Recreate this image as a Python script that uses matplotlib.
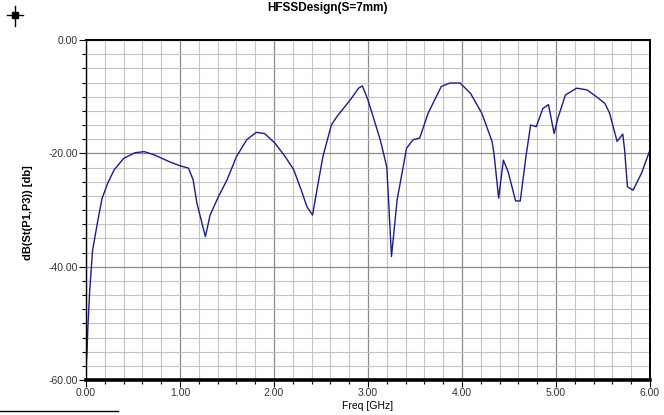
import matplotlib

matplotlib.use("Agg")
import matplotlib.pyplot as plt
from matplotlib.lines import Line2D
from matplotlib.ticker import MultipleLocator, FormatStrFormatter

# S-parameter curve
freq_ghz = [
    0.00, 0.01, 0.02, 0.04, 0.07, 0.12, 0.17, 0.23, 0.30, 0.40,
    0.52, 0.62, 0.73, 0.89, 1.00, 1.09, 1.14, 1.18, 1.27, 1.32,
    1.41, 1.50, 1.60, 1.71, 1.81, 1.90, 2.01, 2.12, 2.21, 2.29,
    2.35, 2.41, 2.45, 2.52, 2.61, 2.67, 2.81, 2.90, 2.94, 3.00,
    3.13, 3.20, 3.25, 3.31, 3.41, 3.48, 3.55, 3.64, 3.78, 3.87,
    3.98, 4.09, 4.21, 4.32, 4.34, 4.39, 4.44, 4.49, 4.57, 4.62,
    4.68, 4.73, 4.79, 4.86, 4.92, 4.98, 5.02, 5.10, 5.22, 5.33,
    5.43, 5.52, 5.57, 5.65, 5.71, 5.73, 5.76, 5.82, 5.91, 6.00,
]
s13_db = [
    -57.7, -55.3, -50.6, -44.1, -37.1, -32.4, -28.0, -25.3, -22.9, -20.9,
    -19.9, -19.7, -20.3, -21.5, -22.2, -22.6, -24.7, -28.8, -34.7, -30.9,
    -27.6, -24.7, -20.6, -17.6, -16.3, -16.5, -18.2, -20.6, -22.9, -26.5,
    -29.4, -30.9, -27.1, -20.6, -15.0, -13.5, -10.6, -8.5, -8.1, -10.6,
    -17.6, -22.4, -38.2, -28.2, -19.1, -17.6, -17.3, -12.9, -8.2, -7.6,
    -7.6, -9.4, -12.9, -17.9, -20.0, -27.9, -21.2, -23.2, -28.4, -28.4,
    -20.6, -15.0, -15.3, -12.1, -11.4, -16.5, -13.8, -9.7, -8.5, -8.8,
    -10.0, -11.2, -12.9, -17.9, -16.6, -19.4, -25.9, -26.5, -23.5, -19.4,
]

title = "HFSSDesign(S=7mm)"
x_label = "Freq [GHz]"
y_label = "dB(St(P1,P3)) [db]"

plt.rcParams["font.family"] = ["Liberation Sans", "DejaVu Sans"]

fig = plt.figure(figsize=(6.64, 4.15), dpi=100)
W, H = 664, 415
ax = fig.add_axes([86 / W, 1 - 380 / H, (650 - 86) / W, (380 - 40) / H])

ax.plot(freq_ghz, s13_db, color="#1c1c8a", linewidth=1.0)

ax.set_xlim(0, 6)
ax.set_ylim(-60, 0)
ax.xaxis.set_major_locator(MultipleLocator(1))
ax.xaxis.set_minor_locator(MultipleLocator(0.2))
ax.yaxis.set_major_locator(MultipleLocator(20))
ax.yaxis.set_minor_locator(MultipleLocator(2.5))
ax.xaxis.set_major_formatter(FormatStrFormatter("%.2f"))
ax.yaxis.set_major_formatter(FormatStrFormatter("%.2f"))

ax.grid(which="minor", color="#c4c4c4", linewidth=0.8)
ax.grid(which="major", color="#8a8a8a", linewidth=0.9)
ax.set_axisbelow(True)

ax.tick_params(which="major", direction="out", length=5, width=0.8,
               labelsize=7.5, labelcolor="#333333", pad=1)
ax.tick_params(which="minor", direction="out", length=3, width=0.8)

for side in ("top", "right", "left"):
    ax.spines[side].set_color("black")
ax.spines["top"].set_linewidth(1.4)
ax.spines["right"].set_linewidth(1.4)
ax.spines["left"].set_linewidth(1.0)
ax.spines["bottom"].set_linewidth(2.6)

fig.text(328 / W, 1 - 8 / H, title, ha="center", va="center",
         fontsize=8.5, fontweight="bold")
fig.text(368 / W, 1 - 406 / H, x_label, ha="center", va="center", fontsize=7.5)
fig.text(28 / W, 1 - 213 / H, y_label, ha="center", va="center",
         rotation=90, fontsize=8, fontweight="bold")

# small marker icon in the corner and the stray line at the bottom-left
fig.add_artist(Line2D([7 / W, 23 / W], [1 - 15 / H, 1 - 15 / H], color="black", lw=1))
fig.add_artist(Line2D([15 / W, 15 / W], [1 - 6 / H, 1 - 26 / H], color="black", lw=1))
fig.add_artist(Line2D([15 / W], [1 - 15 / H], marker="s", markersize=4,
                      color="black", markerfacecolor="black"))
fig.add_artist(Line2D([0, 118 / W], [1 - 411 / H, 1 - 411 / H], color="black", lw=1))

fig.savefig("out.png", dpi=100)
plt.close(fig)
